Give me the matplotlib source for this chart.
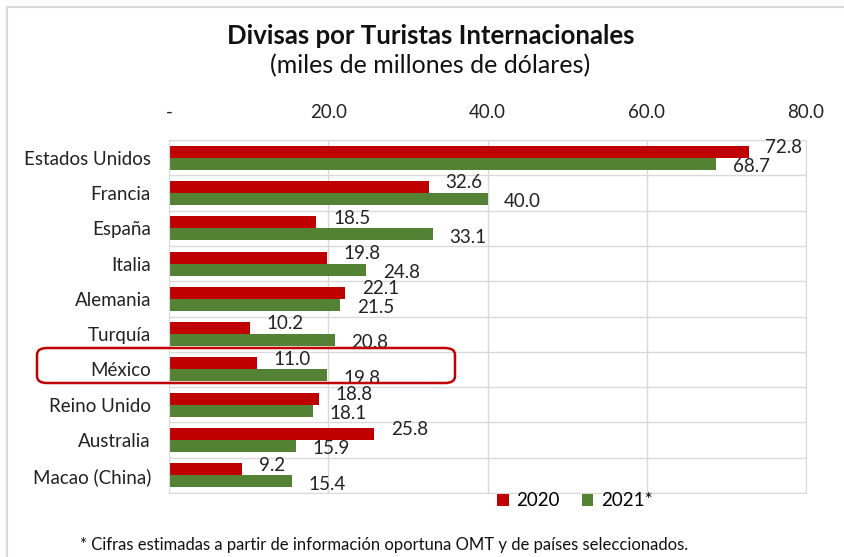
import numpy as np
import matplotlib.pyplot as plt
from matplotlib.patches import FancyBboxPatch
from matplotlib.lines import Line2D

plt.rcParams['font.family'] = ['Lato', 'DejaVu Sans']

paises = ["Estados Unidos", "Francia", "España", "Italia", "Alemania",
          "Turquía", "México", "Reino Unido", "Australia", "Macao (China)"]
v2020 = [72.8, 32.6, 18.5, 19.8, 22.1, 10.2, 11.0, 18.8, 25.8, 9.2]
v2021 = [68.7, 40.0, 33.1, 24.8, 21.5, 20.8, 19.8, 18.1, 15.9, 15.4]
xticks = [0, 20, 40, 60, 80]
xtick_labels = ["-", "20.0", "40.0", "60.0", "80.0"]

RED = "#C00000"
GREEN = "#548235"
GRID = "#D9D9D9"
TXT = "#222222"
FS = 13.5

fig = plt.figure(figsize=(8.44, 5.57), dpi=100)
ax = fig.add_axes([169/844, 1 - 493/557, (806 - 169)/844, (493 - 140)/557])

y = np.arange(len(paises))
h = 0.34
ax.barh(y - h/2, v2020, height=h, color=RED, label="2020")
ax.barh(y + h/2, v2021, height=h, color=GREEN, label="2021*")

ax.set_xlim(0, 80)
ax.set_ylim(len(paises) - 0.5, -0.5)
ax.xaxis.tick_top()
ax.set_xticks(xticks)
ax.set_xticklabels(xtick_labels, fontsize=FS, color=TXT)
ax.tick_params(axis="x", length=0, pad=14)
ax.set_yticks(y)
ax.set_yticklabels(paises, fontsize=FS, color=TXT)
ax.tick_params(axis="y", length=0, pad=13)
for k in range(len(paises) + 1):
    ax.axhline(k - 0.5, color=GRID, lw=1, zorder=0)
for xv in xticks[1:]:
    ax.axvline(xv, color=GRID, lw=1, zorder=0)
for s in ax.spines.values():
    s.set_color(GRID)

# data labels (Excel style, slightly offset)
for i, (a, b) in enumerate(zip(v2020, v2021)):
    ax.annotate(f"{a:.1f}", (a, i - h/2), xytext=(12, 3), textcoords="offset points",
                va="center", ha="left", fontsize=FS, color=TXT)
    ax.annotate(f"{b:.1f}", (b, i + h/2), xytext=(12, -2), textcoords="offset points",
                va="center", ha="left", fontsize=FS, color=TXT)

# highlight México
fig.patches.append(FancyBboxPatch((37/844, 1 - 383/557), (455 - 37)/844, 35/557,
                                  boxstyle="round,pad=0,rounding_size=0.012",
                                  transform=fig.transFigure, fill=False,
                                  edgecolor=RED, lw=1.8))

# frame
fig.add_artist(Line2D([7/844, 7/844], [0, 1 - 7/557], color=GRID, lw=1.5))
fig.add_artist(Line2D([7/844, 1], [1 - 7/557, 1 - 7/557], color=GRID, lw=1.5))

fig.text(0.51, 1 - 36/557, "Divisas por Turistas Internacionales", ha="center",
         va="center", fontsize=18.5, fontweight="bold", color="#111111")
fig.text(0.51, 1 - 66/557, "(miles de millones de dólares)", ha="center",
         va="center", fontsize=18, color="#111111")

leg = fig.legend(loc="center", bbox_to_anchor=(575/844, 1 - 501/557), ncol=2,
                 frameon=False, fontsize=FS, handlelength=0.6, handleheight=0.6,
                 handletextpad=0.4, columnspacing=1.2)

fig.text(80/844, 1 - 545/557,
         "* Cifras estimadas a partir de información oportuna OMT y de países seleccionados.",
         ha="left", va="center", fontsize=12, color="#111111")

fig.savefig("out.png", dpi=100)
